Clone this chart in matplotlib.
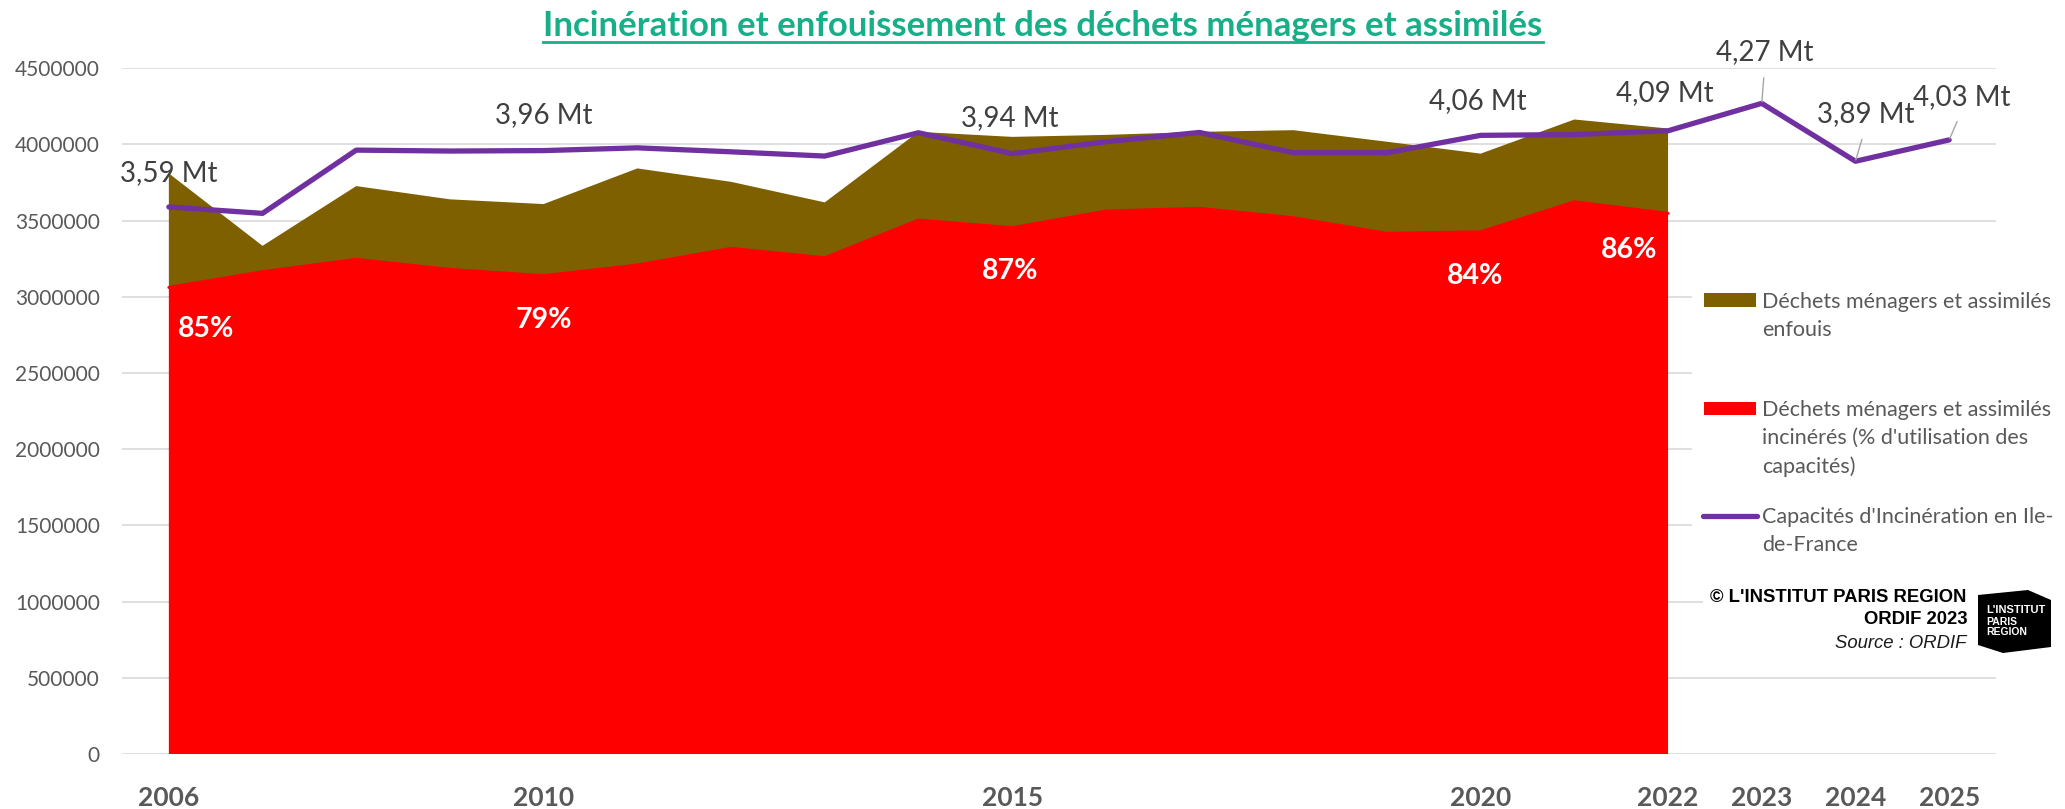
import matplotlib
matplotlib.use('Agg')
import matplotlib.pyplot as plt
import numpy as np
from matplotlib.patches import Rectangle, Polygon
from matplotlib.lines import Line2D

plt.rcParams['font.family'] = ['Lato', 'DejaVu Sans']

# Data (tonnes)
years = list(range(2006, 2026))
tick_labels = ['2006', '', '', '', '2010', '', '', '', '', '2015', '', '', '', '',
               '2020', '', '2022', '2023', '2024', '2025']
incineres = [3062000, 3165000, 3246000, 3180000, 3139000, 3209000, 3318000, 3257000,
             3504000, 3454000, 3563000, 3581000, 3519000, 3417000, 3427000, 3624000, 3548000]
enfouis = [748000, 170000, 481000, 460000, 470000, 634000, 437000, 363000,
           579000, 596000, 500000, 502000, 575000, 601000, 513000, 540000, 557000]
capacites = [3590000, 3548000, 3963000, 3957000, 3960000, 3978000, 3952000, 3924000,
             4077000, 3940000, 4018000, 4079000, 3946000, 3946000, 4060000, 4065000,
             4090000, 4270000, 3890000, 4030000]
mt_years = [2006, 2010, 2015, 2020, 2022, 2023, 2024, 2025]
mt_texts = ['3,59 Mt', '3,96 Mt', '3,94 Mt', '4,06 Mt', '4,09 Mt', '4,27 Mt', '3,89 Mt', '4,03 Mt']
pct_years = [2006, 2010, 2015, 2020, 2022]
pct_texts = ['85%', '79%', '87%', '84%', '86%']

RED = '#FF0000'
BROWN = '#7F6000'
PURPLE = '#7030A0'
GREY = '#595959'
TEAL = '#16AF88'

W, H = 2065, 809
fig = plt.figure(figsize=(W / 100, H / 100), dpi=100)


def fx(px):
    return px / W


def fy(py):
    return 1 - py / H


ax = fig.add_axes([fx(122), fy(754), (1996 - 122) / W, (754 - 68.3) / H])

x = np.arange(len(years))
n = len(incineres)
ax.stackplot(x[:n], incineres, enfouis, colors=[RED, BROWN], lw=0, zorder=2)
ax.plot(x[:n], incineres, color=RED, lw=2.2, solid_capstyle='round', zorder=2.5)
ax.plot(x, capacites, color=PURPLE, lw=3.8, solid_capstyle='round', zorder=3)

ax.set_xlim(-0.5, 19.5)
ax.set_ylim(0, 4500000)
yt = np.arange(0, 4500001, 500000)
ax.set_yticks(yt)
ax.set_yticklabels([str(v) for v in yt])
ax.set_xticks(x)
ax.set_xticklabels(tick_labels)
ax.yaxis.grid(True, color='#d9d9d9', lw=1.2)
ax.set_axisbelow(True)
ax.tick_params(axis='both', length=0)
ax.tick_params(axis='y', pad=16, labelsize=15, labelcolor=GREY)
ax.tick_params(axis='x', pad=23, labelsize=19, labelcolor=GREY)
for lbl in ax.get_xticklabels():
    lbl.set_fontweight('bold')
for s in ax.spines.values():
    s.set_visible(False)

# "Mt" labels on the capacity line
mt_offsets = {2006: (0, 34), 2010: (0, 36), 2015: (-2, 36), 2020: (-3, 34),
              2022: (-3, 38), 2023: (3, 51), 2024: (10, 47), 2025: (13, 43)}
for yr, txt in zip(mt_years, mt_texts):
    i = years.index(yr)
    dx, dy = mt_offsets[yr]
    kw = {}
    if yr >= 2023:
        kw['arrowprops'] = dict(arrowstyle='-', color='#a6a6a6', lw=1,
                                relpos=(0.5, 0), shrinkA=7, shrinkB=1)
    ax.annotate(txt, (i, capacites[i]), xytext=(dx, dy), textcoords='offset pixels',
                ha='center', va='center', fontsize=20, color='#404040', zorder=5, **kw)

# percentage labels inside the red area
pct_offsets = {2006: (37, -42), 2010: (0, -44), 2015: (-2, -43), 2020: (-6, -44), 2022: (-39, -37)}
for yr, txt in zip(pct_years, pct_texts):
    i = years.index(yr)
    dx, dy = pct_offsets[yr]
    ax.annotate(txt, (i, incineres[i]), xytext=(dx, dy), textcoords='offset pixels',
                ha='center', va='center', fontsize=20.5, fontweight='bold', color='white', zorder=5)

# title (underlined)
title = fig.text(fx(1043), fy(36), 'Incinération et enfouissement des déchets ménagers et assimilés',
                 ha='center', va='baseline', fontsize=25, fontweight='bold', color=TEAL)
fig.canvas.draw()
bb = title.get_window_extent()
fig.add_artist(Line2D([bb.x0 / W, bb.x1 / W], [fy(42), fy(42)], color=TEAL, lw=2))

# legend (drawn by hand, Excel style)
fig.add_artist(Rectangle((fx(1692), fy(575)), (W - 1692) / W, (575 - 250) / H,
                         transform=fig.transFigure, facecolor='white', edgecolor='none', zorder=4))
fig.add_artist(Rectangle((fx(1703), fy(662)), (W - 1703) / W, (662 - 575) / H,
                         transform=fig.transFigure, facecolor='white', edgecolor='none', zorder=4))

fig.add_artist(Rectangle((fx(1704), fy(307)), 52 / W, 14 / H, transform=fig.transFigure,
                         facecolor=BROWN, edgecolor='none', zorder=5))
fig.add_artist(Rectangle((fx(1704), fy(415)), 52 / W, 13 / H, transform=fig.transFigure,
                         facecolor=RED, edgecolor='none', zorder=5))
fig.add_artist(Line2D([fx(1703), fx(1757)], [fy(516), fy(516)], color=PURPLE, lw=3.8,
                      solid_capstyle='round', zorder=5))

legend_lines = [(302, 'Déchets ménagers et assimilés'), (330, 'enfouis'),
                (410, 'Déchets ménagers et assimilés'), (438, "incinérés (% d'utilisation des"),
                (467, 'capacités)'),
                (517, "Capacités d'Incinération en Ile-"), (545, 'de-France')]
for py, txt in legend_lines:
    fig.text(fx(1762), fy(py), txt, ha='left', va='center', fontsize=15.5, color=GREY, zorder=6)

# copyright block
fig.text(fx(1966), fy(597), "© L'INSTITUT PARIS REGION", ha='right', va='center',
         fontsize=13.3, fontweight='bold', family='Liberation Sans', color='black', zorder=6)
fig.text(fx(1968), fy(619), 'ORDIF 2023', ha='right', va='center',
         fontsize=13.3, fontweight='bold', family='Liberation Sans', color='black', zorder=6)
fig.text(fx(1966), fy(643), 'Source : ORDIF', ha='right', va='center',
         fontsize=13.3, style='italic', family='Liberation Sans', color='#1a1a1a', zorder=6)

logo = [(1978, 595), (2028, 590), (2051, 600), (2051, 647), (2003, 653), (1978, 645)]
fig.add_artist(Polygon([(fx(px), fy(py)) for px, py in logo], closed=True,
                       transform=fig.transFigure, facecolor='black', edgecolor='none', zorder=6))
fig.text(fx(1986), fy(610), "L'INSTITUT", ha='left', va='center', fontsize=8,
         fontweight='bold', family='Liberation Sans', color='white', zorder=7)
fig.text(fx(1986), fy(622), 'PARIS', ha='left', va='center', fontsize=7.5,
         fontweight='bold', family='Liberation Sans', color='white', zorder=7)
fig.text(fx(1986), fy(632), 'REGION', ha='left', va='center', fontsize=7.5,
         fontweight='bold', family='Liberation Sans', color='white', zorder=7)

fig.savefig('out.png', dpi=100, facecolor='white')
